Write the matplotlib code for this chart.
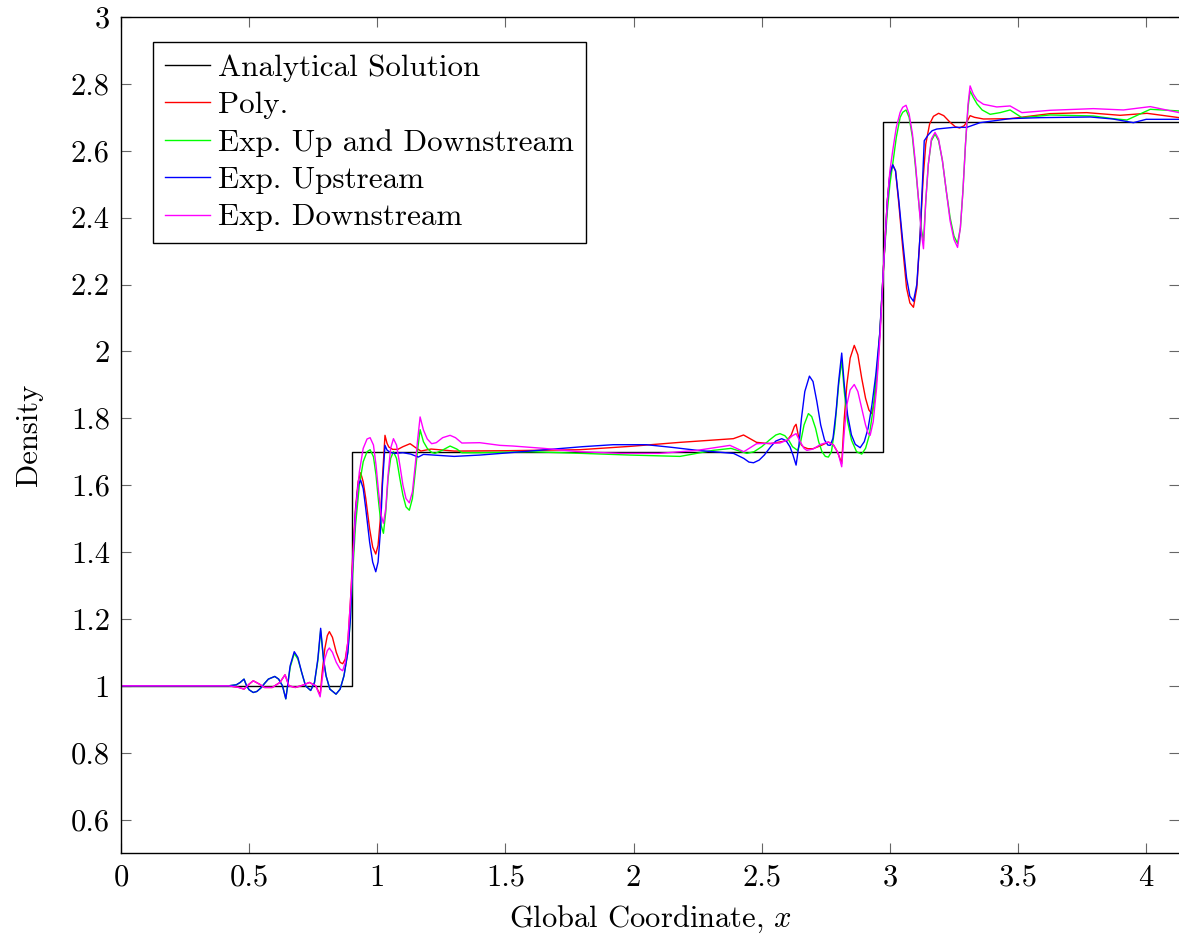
import matplotlib
matplotlib.use("Agg")
import matplotlib.pyplot as plt
from matplotlib.ticker import FuncFormatter

plt.rcParams['font.family'] = ['cmr10', 'DejaVu Serif']
plt.rcParams['mathtext.fontset'] = 'cm'
plt.rcParams['axes.formatter.use_mathtext'] = True

# analytical step profile
exact_x = [0.0, 0.90, 0.90, 2.975, 2.975, 4.129]
exact_y = [1.0, 1.0, 1.7, 1.7, 2.687, 2.687]

# Poly.
poly_x = [0.0, 0.30, 0.42, 0.46, 0.48, 0.50, 0.516, 0.54, 0.56, 0.59, 0.62, 0.64, 0.655, 0.68,
          0.71, 0.735, 0.76, 0.777, 0.785, 0.795, 0.805, 0.813, 0.825, 0.84, 0.855, 0.865,
          0.875, 0.885, 0.895, 0.905, 0.915, 0.925, 0.935, 0.945, 0.955, 0.97, 0.982, 0.994,
          1.003, 1.012, 1.02, 1.03, 1.038, 1.045, 1.06, 1.08, 1.10, 1.128, 1.15, 1.17, 1.21,
          1.30, 1.50, 1.79, 1.986, 2.181, 2.389, 2.429, 2.48, 2.533, 2.598, 2.615, 2.627, 2.634,
          2.645, 2.655, 2.663, 2.68, 2.70, 2.73, 2.76, 2.78, 2.795, 2.805, 2.812, 2.822, 2.832,
          2.845, 2.861, 2.875, 2.89, 2.905, 2.918, 2.929, 2.94, 2.952, 2.962, 2.975, 2.99, 3.0,
          3.011, 3.022, 3.035, 3.05, 3.065, 3.078, 3.092, 3.105, 3.118, 3.13, 3.14, 3.155, 3.17,
          3.19, 3.21, 3.235, 3.255, 3.272, 3.29, 3.303, 3.313, 3.33, 3.365, 3.469, 3.625, 3.768,
          3.898, 4.003, 4.129]
poly_y = [1.0, 1.0, 1.0, 0.995, 0.99, 1.005, 1.015, 1.005, 0.995, 0.995, 1.01, 1.033, 1.0, 0.995,
          1.002, 1.01, 1.0, 0.972, 1.04, 1.11, 1.15, 1.162, 1.145, 1.10, 1.07, 1.066,
          1.08, 1.13, 1.25, 1.40, 1.53, 1.61, 1.637, 1.61, 1.56, 1.47, 1.415, 1.394,
          1.42, 1.50, 1.62, 1.749, 1.725, 1.714, 1.707, 1.707, 1.715, 1.724, 1.712, 1.702, 1.708,
          1.702, 1.703, 1.706, 1.716, 1.728, 1.739, 1.750, 1.728, 1.724, 1.733, 1.75, 1.775, 1.782,
          1.74, 1.72, 1.714, 1.709, 1.709, 1.718, 1.729, 1.72, 1.70, 1.68, 1.665, 1.80, 1.90,
          1.98, 2.018, 1.99, 1.92, 1.86, 1.825, 1.814, 1.85, 1.95, 2.07, 2.25, 2.45, 2.53,
          2.558, 2.54, 2.44, 2.31, 2.19, 2.145, 2.132, 2.19, 2.35, 2.52, 2.62, 2.68, 2.703,
          2.712, 2.705, 2.685, 2.672, 2.668, 2.675, 2.69, 2.705, 2.70, 2.695, 2.696, 2.711, 2.714,
          2.706, 2.712, 2.699]

# Exp. Up and Downstream
updown_x = [0.0, 0.30, 0.42, 0.45, 0.465, 0.48, 0.49, 0.50, 0.516, 0.53, 0.545, 0.56, 0.575,
            0.60, 0.615, 0.63, 0.643, 0.65, 0.66, 0.676, 0.69, 0.705, 0.72, 0.74, 0.755, 0.768,
            0.779, 0.79, 0.80, 0.815, 0.839, 0.855, 0.87, 0.885, 0.895, 0.905, 0.915, 0.93,
            0.945, 0.96, 0.972, 0.985, 0.995, 1.005, 1.015, 1.024, 1.033, 1.042, 1.052, 1.063,
            1.075, 1.088, 1.10, 1.112, 1.125, 1.137, 1.148, 1.158, 1.167, 1.18, 1.195, 1.212,
            1.225, 1.255, 1.284, 1.31, 1.33, 1.40, 1.60, 1.80, 1.986, 2.181, 2.31, 2.38, 2.442,
            2.47, 2.50, 2.53, 2.555, 2.571, 2.59, 2.605, 2.62, 2.64, 2.652, 2.665, 2.682, 2.695,
            2.71, 2.722, 2.735, 2.748, 2.76, 2.772, 2.785, 2.80, 2.812, 2.822, 2.835, 2.85, 2.87,
            2.89, 2.905, 2.92, 2.935, 2.95, 2.962, 2.975, 2.99, 3.0, 3.011, 3.025, 3.04, 3.05,
            3.063, 3.075, 3.088, 3.10, 3.112, 3.122, 3.131, 3.14, 3.15, 3.162, 3.176, 3.19, 3.205,
            3.22, 3.235, 3.25, 3.264, 3.275, 3.285, 3.295, 3.305, 3.313, 3.325, 3.34, 3.36, 3.391,
            3.43, 3.469, 3.515, 3.625, 3.794, 3.87, 3.925, 4.016, 4.129]
updown_y = [1.0, 1.0, 1.0, 1.003, 1.01, 1.02, 1.0, 0.988, 0.98, 0.983, 0.993, 1.007, 1.02,
            1.028, 1.02, 1.0, 0.961, 1.0, 1.055, 1.097, 1.08, 1.04, 1.0, 0.986, 1.01, 1.075,
            1.165, 1.08, 1.03, 0.99, 0.975, 0.99, 1.03, 1.1, 1.2, 1.35, 1.48, 1.6,
            1.67, 1.70, 1.706, 1.685, 1.63, 1.55, 1.48, 1.456, 1.52, 1.62, 1.68, 1.70,
            1.68, 1.62, 1.57, 1.535, 1.525, 1.56, 1.64, 1.71, 1.766, 1.73, 1.71, 1.698,
            1.695, 1.705, 1.717, 1.708, 1.697, 1.697, 1.70, 1.695, 1.69, 1.686, 1.704, 1.71, 1.695,
            1.70, 1.715, 1.735, 1.75, 1.754, 1.748, 1.735, 1.715, 1.704, 1.73, 1.78, 1.814, 1.805,
            1.77, 1.73, 1.70, 1.686, 1.684, 1.70, 1.77, 1.9, 1.973, 1.88, 1.79, 1.735, 1.70,
            1.693, 1.71, 1.75, 1.83, 1.95, 2.07, 2.25, 2.42, 2.5, 2.56, 2.64, 2.70, 2.715,
            2.722, 2.70, 2.64, 2.55, 2.45, 2.37, 2.33, 2.45, 2.56, 2.63, 2.65, 2.63, 2.57,
            2.48, 2.40, 2.345, 2.323, 2.37, 2.48, 2.62, 2.73, 2.779, 2.76, 2.74, 2.722, 2.709,
            2.714, 2.722, 2.699, 2.707, 2.704, 2.696, 2.692, 2.724, 2.719]

# Exp. Upstream
up_x = [0.0, 0.30, 0.42, 0.45, 0.465, 0.48, 0.49, 0.50, 0.516, 0.53, 0.545, 0.56, 0.575,
        0.60, 0.615, 0.63, 0.643, 0.65, 0.66, 0.676, 0.69, 0.705, 0.72, 0.74, 0.755, 0.768,
        0.779, 0.79, 0.80, 0.815, 0.839, 0.855, 0.87, 0.885, 0.895, 0.905, 0.915, 0.925,
        0.935, 0.945, 0.955, 0.97, 0.982, 0.994, 1.003, 1.012, 1.02, 1.03, 1.038, 1.05, 1.07,
        1.10, 1.13, 1.16, 1.18, 1.22, 1.30, 1.40, 1.50, 1.66, 1.80, 1.92, 2.05, 2.15, 2.25,
        2.39, 2.43, 2.45, 2.468, 2.49, 2.51, 2.535, 2.555, 2.578, 2.595, 2.61, 2.622, 2.634,
        2.645, 2.655, 2.668, 2.686, 2.70, 2.715, 2.73, 2.745, 2.758, 2.767, 2.778, 2.79, 2.80,
        2.812, 2.822, 2.835, 2.85, 2.865, 2.884, 2.90, 2.915, 2.93, 2.945, 2.96, 2.975, 2.99,
        3.0, 3.011, 3.022, 3.035, 3.05, 3.065, 3.078, 3.092, 3.105, 3.118, 3.128, 3.134, 3.15,
        3.165, 3.183, 3.248, 3.30, 3.352, 3.469, 3.586, 3.782, 3.87, 3.95, 4.0, 4.129]
up_y = [1.0, 1.0, 1.0, 1.003, 1.01, 1.02, 1.0, 0.988, 0.98, 0.983, 0.993, 1.007, 1.02,
        1.028, 1.02, 1.0, 0.961, 1.0, 1.06, 1.102, 1.085, 1.04, 1.0, 0.986, 1.01, 1.08,
        1.172, 1.08, 1.03, 0.99, 0.975, 0.99, 1.03, 1.1, 1.2, 1.38, 1.52, 1.6,
        1.615, 1.59, 1.53, 1.43, 1.37, 1.341, 1.37, 1.46, 1.6, 1.719, 1.705, 1.698, 1.695,
        1.697, 1.693, 1.684, 1.692, 1.690, 1.686, 1.690, 1.696, 1.706, 1.715, 1.721, 1.721, 1.713, 1.704,
        1.695, 1.680, 1.669, 1.667, 1.675, 1.69, 1.715, 1.732, 1.739, 1.733, 1.715, 1.69, 1.660,
        1.72, 1.80, 1.88, 1.926, 1.91, 1.85, 1.78, 1.735, 1.72, 1.719, 1.74, 1.82, 1.91,
        1.995, 1.9, 1.81, 1.75, 1.722, 1.712, 1.73, 1.77, 1.84, 1.93, 2.05, 2.25, 2.45,
        2.53, 2.558, 2.54, 2.45, 2.33, 2.22, 2.165, 2.150, 2.2, 2.35, 2.52, 2.630, 2.648,
        2.66, 2.665, 2.67, 2.67, 2.684, 2.696, 2.699, 2.701, 2.695, 2.684, 2.694, 2.694]

# Exp. Downstream
down_x = [0.0, 0.30, 0.42, 0.46, 0.48, 0.50, 0.516, 0.54, 0.56, 0.59, 0.62, 0.64, 0.655, 0.68,
          0.71, 0.735, 0.76, 0.777, 0.785, 0.795, 0.805, 0.813, 0.825, 0.84, 0.855, 0.865,
          0.875, 0.885, 0.895, 0.905, 0.915, 0.93, 0.945, 0.96, 0.972, 0.985, 0.995, 1.005,
          1.015, 1.024, 1.033, 1.042, 1.052, 1.063, 1.075, 1.088, 1.10, 1.112, 1.125, 1.137,
          1.148, 1.158, 1.167, 1.18, 1.195, 1.212, 1.23, 1.255, 1.284, 1.305, 1.33, 1.40, 1.479,
          1.53, 1.65, 1.79, 1.95, 2.10, 2.247, 2.376, 2.43, 2.48, 2.571, 2.60, 2.62, 2.634,
          2.65, 2.665, 2.676, 2.70, 2.73, 2.76, 2.78, 2.795, 2.80, 2.812, 2.822, 2.832, 2.845,
          2.861, 2.875, 2.89, 2.905, 2.915, 2.923, 2.935, 2.948, 2.962, 2.975, 2.99, 3.0, 3.011,
          3.025, 3.04, 3.05, 3.063, 3.075, 3.088, 3.10, 3.112, 3.122, 3.131, 3.14, 3.15, 3.162,
          3.176, 3.19, 3.205, 3.22, 3.235, 3.25, 3.264, 3.275, 3.285, 3.295, 3.305, 3.313,
          3.325, 3.34, 3.365, 3.417, 3.469, 3.515, 3.625, 3.794, 3.911, 4.016, 4.129]
down_y = [1.0, 1.0, 1.0, 0.995, 0.99, 1.005, 1.015, 1.005, 0.995, 0.995, 1.01, 1.033, 1.0, 0.995,
          1.002, 1.01, 1.0, 0.967, 1.02, 1.08, 1.105, 1.113, 1.10, 1.07, 1.05, 1.045,
          1.07, 1.13, 1.25, 1.38, 1.52, 1.64, 1.71, 1.738, 1.742, 1.72, 1.66, 1.58,
          1.51, 1.486, 1.53, 1.63, 1.71, 1.739, 1.72, 1.66, 1.60, 1.56, 1.547, 1.58,
          1.66, 1.74, 1.804, 1.765, 1.738, 1.724, 1.727, 1.742, 1.749, 1.742, 1.726, 1.727, 1.719,
          1.717, 1.71, 1.70, 1.695, 1.695, 1.704, 1.719, 1.70, 1.724, 1.726, 1.735, 1.748, 1.754,
          1.73, 1.71, 1.704, 1.708, 1.722, 1.729, 1.72, 1.70, 1.69, 1.655, 1.76, 1.84, 1.885,
          1.901, 1.88, 1.83, 1.78, 1.755, 1.749, 1.79, 1.89, 2.05, 2.25, 2.45, 2.54, 2.60,
          2.67, 2.715, 2.73, 2.736, 2.71, 2.65, 2.56, 2.45, 2.36, 2.307, 2.45, 2.56, 2.635,
          2.655, 2.635, 2.57, 2.48, 2.39, 2.335, 2.311, 2.37, 2.48, 2.62, 2.74, 2.794,
          2.77, 2.752, 2.739, 2.731, 2.734, 2.714, 2.721, 2.726, 2.722, 2.732, 2.714]

x_ticks = [0, 0.5, 1, 1.5, 2, 2.5, 3, 3.5, 4]
y_ticks = [0.6, 0.8, 1.0, 1.2, 1.4, 1.6, 1.8, 2.0, 2.2, 2.4, 2.6, 2.8, 3.0]

fig = plt.figure(figsize=(11.79, 9.36), dpi=100)
ax = fig.add_axes([121 / 1179, 1 - 853 / 936, 1 - 121 / 1179, (853 - 17) / 936])

lw = 1.0
ax.plot(exact_x, exact_y, color='black', lw=lw, label='Analytical Solution')
ax.plot(poly_x, poly_y, color='red', lw=lw, label='Poly.')
ax.plot(updown_x, updown_y, color='#00ff00', lw=lw, label='Exp. Up and Downstream')
ax.plot(up_x, up_y, color='blue', lw=lw, label='Exp. Upstream')
ax.plot(down_x, down_y, color='magenta', lw=lw, label='Exp. Downstream')

ax.set_xlim(0, 4.128)
ax.set_ylim(0.5, 3.0)
ax.set_xticks(x_ticks)
ax.set_yticks(y_ticks)
fmt = FuncFormatter(lambda v, p: '%g' % round(v, 2))
ax.xaxis.set_major_formatter(fmt)
ax.yaxis.set_major_formatter(fmt)
ax.tick_params(direction='in', length=7, width=0.8, color='#666666', pad=8,
               labelsize=22, top=True, right=True)
ax.spines['right'].set_visible(False)
for s in ['left', 'bottom', 'top']:
    ax.spines[s].set_linewidth(1.0)

ax.set_xlabel('Global Coordinate, $x$', fontsize=22, labelpad=9)
ax.set_ylabel('Density', fontsize=22, labelpad=20)

leg = ax.legend(loc='upper left', bbox_to_anchor=(32 / 1058, (853 - 42) / 836),
                borderaxespad=0, prop={'size': 22.4}, fancybox=False, edgecolor='black',
                framealpha=1, handlelength=1.45, handletextpad=0.25, labelspacing=0.31,
                borderpad=0.38)
leg.get_frame().set_linewidth(1.0)

fig.savefig('out.png', dpi=100)
